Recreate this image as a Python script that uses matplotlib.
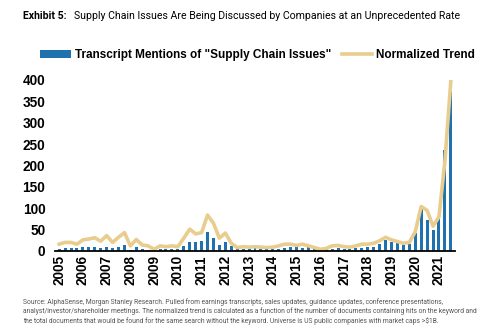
import matplotlib.pyplot as plt
import numpy as np

# quarterly, 2005 Q1 .. 2021 Q3
years = list(range(2005, 2022))
mentions = [5, 6, 6, 7,
            9, 10, 10, 6,
            10, 6, 9, 13,
            2, 10, 5, 3,
            1, 4, 4, 4,
            5, 12, 22, 20,
            23, 44, 31, 14,
            22, 12, 5, 4,
            5, 6, 5, 4,
            4, 5, 8, 10,
            9, 8, 10, 6,
            4, 4, 5, 7,
            5, 4, 6, 8,
            9, 10, 16, 26,
            22, 18, 14, 16,
            43, 98, 73, 48,
            75, 236, 371]
trend = [16, 20, 20, 16,
         26, 28, 31, 23,
         36, 20, 32, 43,
         12, 27, 14, 12,
         4, 12, 10, 12,
         10, 30, 51, 40,
         43, 84, 65, 30,
         42, 18, 8, 10,
         9, 10, 9, 8,
         9, 12, 16, 16,
         13, 16, 12, 8,
         4, 6, 12, 13,
         10, 9, 12, 16,
         16, 18, 24, 32,
         26, 22, 18, 20,
         45, 104, 95, 58,
         80, 210, 398]

blue = '#1f72ad'
tan = '#e8cd8e'

fig = plt.figure(figsize=(5, 3.36), dpi=100)
ax = fig.add_axes([0.11, 0.253, 0.80, 0.509])

x = np.arange(len(mentions))
bars = ax.bar(x, mentions, width=0.5, color=blue, zorder=2,
              label='Transcript Mentions of "Supply Chain Issues"')
line, = ax.plot(x, trend, color=tan, lw=2.6, solid_joinstyle='round', zorder=3,
                label='Normalized Trend')

ax.set_xlim(-0.7, len(mentions) - 0.3)
ax.set_ylim(0, 400)
ax.set_yticks(range(0, 401, 50))
ax.set_xticks(np.arange(len(years)) * 4)
ax.set_xticklabels([str(y) for y in years])
for lab in ax.get_xticklabels() + ax.get_yticklabels():
    lab.set_fontfamily('Liberation Sans')
    lab.set_fontweight('bold')
    lab.set_fontsize(9.8)
ax.tick_params(length=0, pad=3)
ax.tick_params(axis='y', pad=7)
ax.tick_params(axis='x', labelrotation=90)
for s in ['top', 'right', 'left']:
    ax.spines[s].set_visible(False)
ax.spines['bottom'].set_linewidth(1.3)
ax.spines['bottom'].set_zorder(4)

fig.legend(handles=[bars, line], loc='center', bbox_to_anchor=(0.515, 0.836),
           ncol=2, frameon=False,
           prop={'family': 'Liberation Sans', 'weight': 'bold', 'size': 8.5},
           handlelength=2.6, handletextpad=0.3, columnspacing=0.9)

fig.text(0.046, 0.952, 'Exhibit 5:', fontfamily='Roboto', fontweight='bold',
         fontsize=7.6, va='center')
fig.text(0.147, 0.952, 'Supply Chain Issues Are Being Discussed by Companies at an Unprecedented Rate',
         fontfamily='Roboto', fontsize=7.6, va='center')

note = ('Source: AlphaSense, Morgan Stanley Research. Pulled from earnings transcripts, sales updates, guidance updates, conference presentations,\n'
        'analyst/investor/shareholder meetings. The normalized trend is calculated as a function of the number of documents containing hits on the keyword and\n'
        'the total documents that would be found for the same search without the keyword. Universe is US public companies with market caps >$1B.')
fig.text(0.046, 0.113, note, fontfamily='Roboto', fontsize=4.9, color='#555555',
         va='top', linespacing=1.3)

fig.savefig('out.png', dpi=100)
